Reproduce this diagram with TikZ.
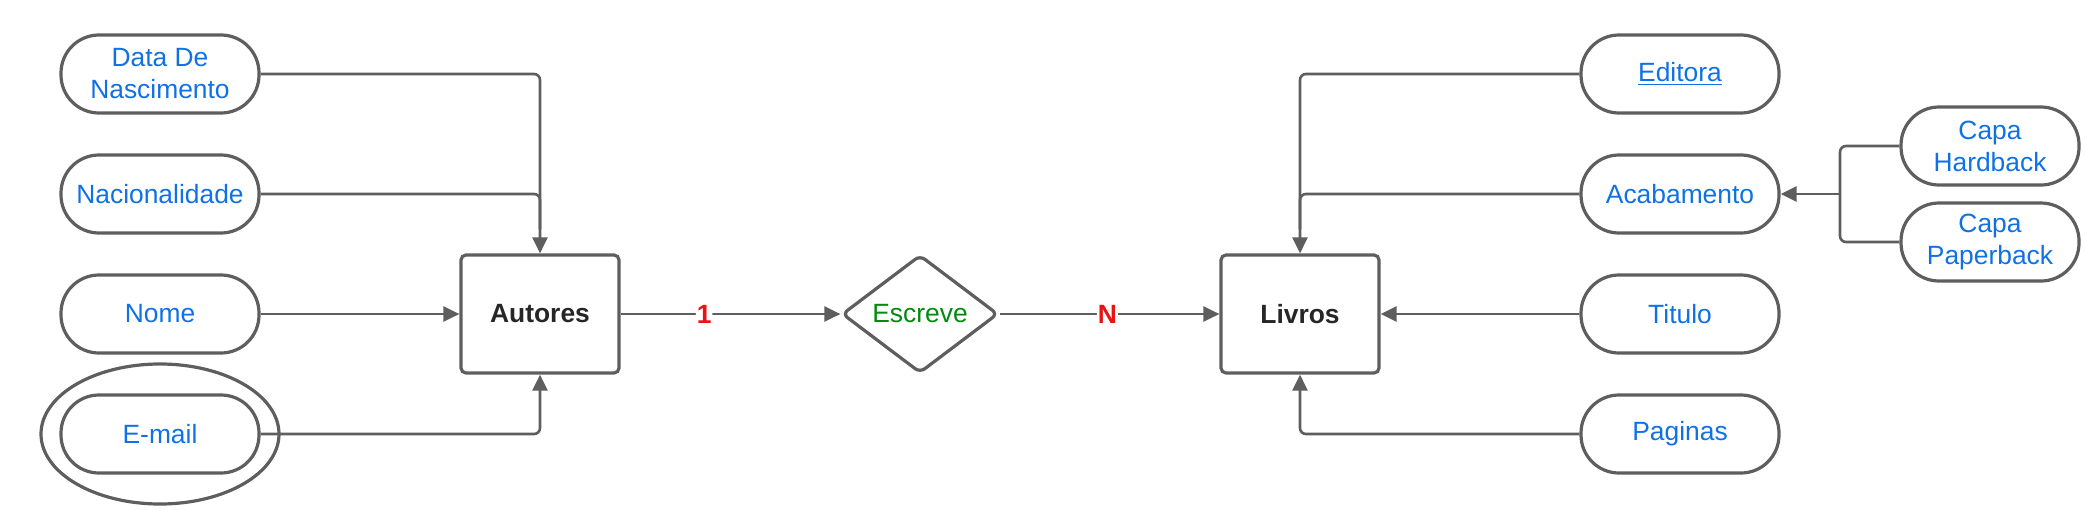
\documentclass[tikz,border=0pt]{standalone}
\usepackage{fontspec}
\setmainfont{Liberation Sans}
\usetikzlibrary{arrows.meta,shapes.geometric}
\definecolor{stroke}{HTML}{5E5E5E}
\definecolor{attrblue}{HTML}{1071E5}
\definecolor{relgreen}{HTML}{008A0E}
\definecolor{cardred}{HTML}{E81313}
\begin{document}
\begin{tikzpicture}[x=0.5pt,y=-0.5pt,
  attr/.style={draw=stroke,line width=1.6pt,rounded corners=19pt,minimum width=99pt,minimum height=39pt,inner sep=0pt,align=center,text=attrblue,font=\fontsize{13.2}{16}\selectfont},
  entity/.style={draw=stroke,line width=1.6pt,rounded corners=2.5pt,minimum width=79pt,minimum height=59pt,inner sep=0pt,font=\fontsize{13.2}{16}\selectfont\bfseries,text=black!85},
  rel/.style={draw=stroke,line width=1.6pt,rounded corners=3pt,diamond,aspect=1.32,minimum width=78pt,minimum height=59pt,inner sep=0pt,text=relgreen,font=\fontsize{13.2}{16}\selectfont},
  conn/.style={draw=stroke,line width=1.3pt,rounded corners=3pt},
  arr/.style={conn,-{Triangle[length=8pt,width=7.5pt]}},
  card/.style={fill=white,inner sep=0.5pt,text=cardred,font=\fontsize{13.2}{16}\selectfont\bfseries}]
\useasboundingbox (0,0) rectangle (2087,514);
% Autores side
\node[attr] (data) at (160,74) {Data De\\Nascimento};
\node[attr] (nac) at (160,194) {Nacionalidade};
\node[attr] (nome) at (160,314) {Nome};
\node[draw=stroke,line width=1.6pt,ellipse,minimum width=119pt,minimum height=70pt] (emailo) at (160,434) {};
\node[attr] (email) at (160,434) {E-mail};
\node[entity] (aut) at (540,314) {Autores};
% relation
\node[rel] (esc) at (920,314) {Escreve};
% Livros side
\node[entity] (liv) at (1300,314) {Livros};
\node[attr] (edit) at (1680,74) {\underline{Editora}};
\node[attr] (acab) at (1680,194) {Acabamento};
\node[attr] (tit) at (1680,314) {Titulo};
\node[attr] (pag) at (1680,434) {Paginas};
\node[attr,minimum width=89pt] (hard) at (1990,146) {Capa\\Hardback};
\node[attr,minimum width=89pt] (paper) at (1990,242) {Capa\\Paperback};
\coordinate (j) at (1840,194);
% connectors Autores
\draw[arr] (data.east) -| (aut.north);
\draw[conn] (nac.east) -| ([yshift=12pt]aut.north);
\draw[arr] (nome.east) -- (aut.west);
\draw[arr] (email.east) -| (aut.south);
% relation connectors
\draw[arr] (aut.east) -- node[card,pos=0.38] (c1) {1} (esc.west);
\draw[arr] (esc.east) -- node[card,pos=0.49] (cn) {N} (liv.west);
% connectors Livros
\draw[arr] (edit.west) -| (liv.north);
\draw[conn] (acab.west) -| ([yshift=12pt]liv.north);
\draw[arr] (tit.west) -- (liv.east);
\draw[arr] (pag.west) -| (liv.south);
% sub attributes
\draw[conn] (hard.west) -| (j);
\draw[conn] (paper.west) -| (j);
\draw[arr] (j) -- (acab.east);
\end{tikzpicture}
\end{document}
